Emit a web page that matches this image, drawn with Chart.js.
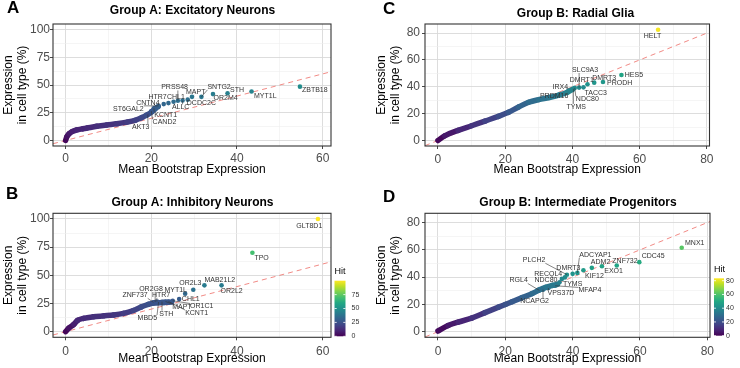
<!DOCTYPE html>
<html>
<head>
<meta charset="utf-8">
<script src="https://cdn.jsdelivr.net/npm/chart.js@4.4.0/dist/chart.umd.min.js"></script>
<style>
  html, body { margin: 0; padding: 0; background: #fff; }
  #wrap { position: relative; width: 740px; height: 368px; }
  .panel { position: absolute; width: 370px; height: 184px; }
</style>
</head>
<body>
<div id="wrap">
  <div class="panel" style="left:0;top:0"><canvas id="chartA" width="370" height="184"></canvas></div>
  <div class="panel" style="left:370px;top:0"><canvas id="chartC" width="370" height="184"></canvas></div>
  <div class="panel" style="left:0;top:184px"><canvas id="chartB" width="370" height="184"></canvas></div>
  <div class="panel" style="left:370px;top:184px"><canvas id="chartD" width="370" height="184"></canvas></div>
</div>
<script>
const FONT = "'Liberation Sans', Arial, Helvetica, sans-serif";

// ---- values ----

// A: Group A, excitatory neurons
const curveAx = [0, 0.3, 0.8, 1.5, 2.6, 4, 5, 7.3, 9.6, 11.9, 14.3, 16.2, 17.7, 18.9, 20.1, 20.9, 21.6];
const curveAy = [0, 3.5, 6, 8, 9.5, 10.5, 11.2, 12.8, 14, 15, 16.5, 18.2, 20.5, 22.8, 25.8, 28.6, 30.5];
const genesA  = ['ZBTB18', 'MYT1L', 'STH', 'OR2M4', 'SNTG2', 'MAPT', 'PRSS48', 'CHL1', 'HTR7', 'ALLC', 'DCDC2C', 'CNTN4', 'ST6GAL2', 'KCNT1', 'CAND2', 'AKT3'];
const genesAx = [54.7, 43.4, 37.8, 34.4, 31.7, 29.5, 26.2, 25.2, 24.0, 27.3, 28.5, 22.9, 21.7, 20.6, 20.0, 19.2];
const genesAy = [48.5, 44.2, 42.6, 41.8, 39.3, 39.3, 35.8, 34.9, 33.7, 36.0, 36.8, 32.8, 31.2, 29.0, 26.5, 23.5];

// B: Group A, inhibitory neurons
const curveBx = [0, 0.7, 1.9, 2.8, 4.2, 6.5, 8.8, 11.2, 13.5, 15.8, 17.7, 19.3, 20.5, 22.8, 24.7];
const curveBy = [0, 3, 6.5, 10, 11.8, 13.2, 14, 14.8, 16.2, 18.8, 22, 24.3, 25.3, 25.8, 26.2];
const genesB  = ['GLT8D1', 'TPO', 'MAB21L2', 'OR2L2', 'OR2L3', 'MYT1L', 'CHL1', 'OR1C1', 'KCNT1', 'MAPT', 'STH', 'MBD5', 'HTR7', 'OR2G8', 'ZNF737'];
const genesBx = [58.9, 43.6, 32.4, 36.4, 29.8, 27.9, 26.5, 25.0, 24.0, 23.3, 22.5, 21.7, 21.3, 20.9, 20.5];
const genesBy = [100, 70, 41.1, 41.1, 37.2, 33.7, 28.9, 27.4, 26.8, 26.8, 26.6, 26.3, 26.8, 26.3, 26.0];

// C: Group B, radial glia
const curveCx = [0, 2, 6, 10, 14, 18, 21, 24, 27, 30, 33, 36, 38.5, 40];
const curveCy = [0, 3.5, 7.5, 11, 14.5, 18, 21, 25, 28.5, 30.5, 32, 33.8, 36, 38];
const genesC  = ['HELT', 'HES5', 'PRODH', 'DMRT3', 'DMRT1', 'SLC9A3', 'TACC3', 'NDC80', 'TYMS', 'IRX4', 'PRDM16'];
const genesCx = [65.5, 54.6, 49.1, 46.5, 44.5, 42.0, 43.3, 40.7, 40.3, 38.9, 36.3];
const genesCy = [82.5, 48.8, 43.6, 43.1, 41.9, 39.4, 39.6, 39.2, 38.5, 37.2, 34.3];

// D: Group B, intermediate progenitors
const curveDx = [0, 3, 6, 10, 14, 18, 20, 22, 25, 28, 30, 32, 34, 35.5];
const curveDy = [0.5, 4.5, 7, 10, 14, 18, 20, 22, 25, 28, 30.5, 32.5, 34, 34.8];
const genesD  = ['MNX1', 'CDC45', 'ZNF732', 'EXO1', 'ADM2', 'KIF12', 'ADCYAP1', 'DMRT3', 'PLCH2', 'RECQL4', 'NDC80', 'TYMS', 'MFAP4', 'VPS37D', 'RGL4', 'NCAPG2'];
const genesDx = [72.4, 59.8, 53.1, 48.7, 45.7, 43.2, 41.4, 40.0, 38.3, 37.7, 36.8, 36.1, 34.8, 32.8, 30.1, 31.2];
const genesDy = [61.5, 51.0, 48.5, 48.0, 46.8, 45.0, 43.1, 42.4, 41.8, 39.8, 38.7, 36.3, 33.7, 32.0, 30.3, 30.8];

// axis and colour-bar ticks
const xTicksAB = [0, 20, 40, 60];
const yTicksAB = [0, 25, 50, 75, 100];
const xTicksCD = [0, 20, 40, 60, 80];
const yTicksCD = [0, 20, 40, 60, 80];
const hitTicksB = [0, 25, 50, 75];
const hitTicksD = [0, 20, 40, 60, 80];

// label nudges in pixels: [dx to text left, dy to text middle, draw segment]
const nudgeA = [[2,3,0],[2.5,5,0],[2.5,-3.5,0],[0.5,4,0],[6,-10,1],[-6,-5,0],[-16.7,-13.3,1],[-6.7,-4.3,0],[-20,-5.7,0],[-10.7,6.9,1],[-0.9,3.4,0],[-27.5,-1.1,0],[-45.6,2.9,1],[0.4,6.4,1],[1.3,11.3,1],[-15.9,12.6,1]];
const nudgeB = [[-21.6,7,0],[2,5,0],[0,-5,0],[-1,5.3,0],[-14,-6.7,0],[-20.7,-4,1],[2.7,0,0],[17.3,5.7,1],[16.7,11.6,1],[6.7,5.6,1],[-2.7,12,1],[-21,16,1],[-5,-6.7,1],[-16,-13.3,1],[-31,-7,1]];
const nudgeC = [[-14.3,6.7,0],[3.3,0,0],[4,0.7,0],[-2,-4.3,0],[-17.7,-4.3,0],[-7,-17.6,1],[1,5.5,0],[1.1,11.4,1],[-6.8,18.1,1],[-16.1,-4,0],[-20,2,0]];
const nudgeD = [[3.3,-5,0],[2.4,-6,0],[-4.4,-4.3,0],[2.3,5,0],[-1,-6,0],[1.7,5.3,0],[2,-18.3,1],[-16.3,-6,0],[-44.1,-14.4,1],[-30.7,-3.1,0],[-27.4,1.4,0],[3.4,1.8,0],[23.3,4.7,1],[-0.9,5,1],[-29.8,-9.9,1],[-22.8,11.8,1]];

// ---- helpers ----
const VIRIDIS = ['#440154','#482475','#414487','#355f8d','#2a788e','#21918c','#22a884','#44bf70','#7ad151','#bddf26','#fde725'];
function hexRgb(h) {
  return [parseInt(h.slice(1,3),16), parseInt(h.slice(3,5),16), parseInt(h.slice(5,7),16)];
}
function viridis(t) {
  t = Math.max(0, Math.min(1, t));
  const p = t * (VIRIDIS.length - 1);
  const i = Math.min(Math.floor(p), VIRIDIS.length - 2), f = p - i;
  const a = hexRgb(VIRIDIS[i]), b = hexRgb(VIRIDIS[i + 1]);
  const c = a.map((v, k) => Math.round(v + (b[k] - v) * f));
  return `rgb(${c[0]},${c[1]},${c[2]})`;
}
// major ticks plus the minor grid lines half way between them
function withMinor(major, lo, hi) {
  const half = (major[1] - major[0]) / 2, out = [];
  for (let v = major[0] - half; v <= major[major.length - 1] + half + 1e-9; v += half) {
    if (v >= lo && v <= hi) out.push(v);
  }
  return out;
}

function decor(p) {
  return {
    id: 'decor' + p.letter,
    afterDatasetsDraw(chart) {
      const { ctx, chartArea: a } = chart;
      const xs = chart.scales.x, ys = chart.scales.y;
      ctx.save();
      ctx.font = `7px ${FONT}`;
      ctx.textAlign = 'left';
      ctx.textBaseline = 'middle';
      p.genes.forEach((g, i) => {
        const px = xs.getPixelForValue(p.gx[i]), py = ys.getPixelForValue(p.gy[i]);
        const [dx, dy, seg] = p.nudge[i];
        const tx = px + dx, ty = py + dy, w = ctx.measureText(g).width;
        if (seg) {
          const cx = Math.max(tx, Math.min(px, tx + w));
          const cy = Math.max(ty - 3, Math.min(py, ty + 3));
          ctx.strokeStyle = '#333';
          ctx.lineWidth = 0.6;
          ctx.beginPath(); ctx.moveTo(px, py); ctx.lineTo(cx, cy); ctx.stroke();
        }
        ctx.fillStyle = '#333';
        ctx.fillText(g, tx, ty);
      });
      ctx.strokeStyle = '#333';
      ctx.lineWidth = 1.1;
      ctx.strokeRect(a.left, a.top, a.right - a.left, a.bottom - a.top);
      ctx.restore();
    },
    afterDraw(chart) {
      const ctx = chart.ctx;
      ctx.save();
      ctx.fillStyle = '#000';
      ctx.textBaseline = 'middle';
      ctx.textAlign = 'left';
      ctx.font = `bold 17px ${FONT}`;
      ctx.fillText(p.letter, p.letterPos[0], p.letterPos[1]);
      ctx.textAlign = 'center';
      ctx.font = `bold 12px ${FONT}`;
      ctx.fillText(p.title, p.titlePos[0], p.titlePos[1]);
      const cb = p.colorbar;
      if (cb) {
        const g = ctx.createLinearGradient(0, cb.bottom, 0, cb.top);
        VIRIDIS.forEach((c, i) => g.addColorStop(i / (VIRIDIS.length - 1), c));
        ctx.fillStyle = g;
        ctx.fillRect(cb.x, cb.top, cb.w, cb.bottom - cb.top);
        ctx.textAlign = 'left';
        ctx.fillStyle = '#000';
        ctx.font = `9px ${FONT}`;
        ctx.fillText('Hit', cb.x, cb.titleY);
        ctx.font = `7px ${FONT}`;
        cb.ticks.forEach(v => {
          const yy = cb.bottom - (v / p.hitMax) * (cb.bottom - cb.top);
          ctx.strokeStyle = '#fff';
          ctx.lineWidth = 0.8;
          ctx.beginPath();
          ctx.moveTo(cb.x, yy); ctx.lineTo(cb.x + cb.w / 5, yy);
          ctx.moveTo(cb.x + cb.w, yy); ctx.lineTo(cb.x + cb.w * 4 / 5, yy);
          ctx.stroke();
          ctx.fillStyle = '#333';
          ctx.fillText(String(v), cb.labelX, yy);
        });
      }
      ctx.restore();
    }
  };
}

function makePanel(canvasId, p) {
  const L = p.area;
  const majX = new Set(p.xTicks), majY = new Set(p.yTicks);
  const isMaj = (set, c) => !!(c.tick && set.has(c.tick.value));
  const grid = set => ({
    color: c => isMaj(set, c) ? '#d9d9d9' : '#efefef',
    lineWidth: c => isMaj(set, c) ? 0.9 : 0.6,
    tickColor: c => isMaj(set, c) ? '#333' : 'rgba(0,0,0,0)',
    tickLength: 3,
    drawTicks: true
  });
  const tickFont = { family: FONT, size: 12 };
  new Chart(document.getElementById(canvasId), {
    type: 'scatter',
    data: {
      datasets: [
        {
          data: [{ x: p.xMin, y: p.xMin }, { x: p.xMax, y: p.xMax }],
          showLine: true, borderColor: 'rgba(238,118,112,0.85)', borderWidth: 1,
          borderDash: [5, 4], pointRadius: 0, clip: 0, order: 3
        },
        {
          data: p.cx.map((x, i) => ({ x, y: p.cy[i] })),
          showLine: true, borderWidth: 5.5, borderCapStyle: 'round', borderJoinStyle: 'round',
          cubicInterpolationMode: 'monotone', pointRadius: 0, borderColor: viridis(0),
          segment: { borderColor: c => viridis((c.p0.parsed.y + c.p1.parsed.y) / 2 / p.hitMax) },
          order: 2
        },
        {
          data: p.gx.map((x, i) => ({ x, y: p.gy[i] })),
          pointRadius: 2.3, pointBorderWidth: 0,
          pointBackgroundColor: p.gy.map(v => viridis(v / p.hitMax)),
          order: 1
        }
      ]
    },
    options: {
      responsive: false,
      animation: false,
      devicePixelRatio: 1,
      layout: { padding: { left: 0, top: L.top, right: 370 - L.right, bottom: 0 } },
      plugins: { legend: { display: false }, tooltip: { enabled: false }, title: { display: false } },
      scales: {
        x: {
          type: 'linear', min: p.xMin, max: p.xMax,
          afterFit: s => { s.height = 184 - L.bottom; },
          afterBuildTicks: s => { s.ticks = withMinor(p.xTicks, p.xMin, p.xMax).map(v => ({ value: v })); },
          grid: grid(majX),
          border: { display: false },
          ticks: { autoSkip: false, maxRotation: 0, color: '#4d4d4d', font: tickFont, padding: p.xTickPad,
                   callback: v => majX.has(v) ? String(v) : '' },
          title: { display: true, text: 'Mean Bootstrap Expression', color: '#000', font: { family: FONT, size: 12 },
                   padding: { top: 0, bottom: p.xTitlePad } }
        },
        y: {
          type: 'linear', min: p.yMin, max: p.yMax,
          afterFit: s => { s.width = L.left; },
          afterBuildTicks: s => { s.ticks = withMinor(p.yTicks, p.yMin, p.yMax).map(v => ({ value: v })); },
          grid: grid(majY),
          border: { display: false },
          ticks: { autoSkip: false, color: '#4d4d4d', font: tickFont, padding: p.yTickPad,
                   callback: v => majY.has(v) ? String(v) : '' },
          title: { display: true, text: ['Expression', 'in cell type (%)'], color: '#000', font: { family: FONT, size: 12 },
                   padding: { top: p.yTitlePad, bottom: 0 } }
        }
      }
    },
    plugins: [decor(p)]
  });
}

makePanel('chartA', {
  letter: 'A', letterPos: [7, 8.5], title: 'Group A: Excitatory Neurons', titlePos: [192.5, 11],
  cx: curveAx, cy: curveAy, genes: genesA, gx: genesAx, gy: genesAy, nudge: nudgeA,
  xMin: -2.95, xMax: 61.95, yMin: -5, yMax: 105, xTicks: xTicksAB, yTicks: yTicksAB, hitMax: 100,
  area: { left: 53, right: 331, top: 24, bottom: 146 },
  xTickPad: 2, yTickPad: 0, xTitlePad: 7.3, yTitlePad: 1.1, colorbar: null
});
makePanel('chartC', {
  letter: 'C', letterPos: [13, 9], title: 'Group B: Radial Glia', titlePos: [205.5, 14],
  cx: curveCx, cy: curveCy, genes: genesC, gx: genesCx, gy: genesCy, nudge: nudgeC,
  xMin: -3.85, xMax: 80.8, yMin: -4.1, yMax: 86.8, xTicks: xTicksCD, yTicks: yTicksCD, hitMax: 83.5,
  area: { left: 55, right: 339.5, top: 24, bottom: 146 },
  xTickPad: 3, yTickPad: 2, xTitlePad: 7.5, yTitlePad: 4.5, colorbar: null
});
makePanel('chartB', {
  letter: 'B', letterPos: [6, 10], title: 'Group A: Inhibitory Neurons', titlePos: [192.5, 18.3],
  cx: curveBx, cy: curveBy, genes: genesB, gx: genesBx, gy: genesBy, nudge: nudgeB,
  xMin: -2.95, xMax: 61.95, yMin: -5, yMax: 105, xTicks: xTicksAB, yTicks: yTicksAB, hitMax: 100,
  area: { left: 53, right: 331, top: 29.3, bottom: 153.3 },
  xTickPad: 4.5, yTickPad: 0, xTitlePad: 2.5, yTitlePad: 1.1,
  colorbar: { x: 334.5, w: 11, top: 96.7, bottom: 152.3, ticks: hitTicksB, labelX: 351.5, titleY: 87.3 }
});
makePanel('chartD', {
  letter: 'D', letterPos: [13, 13], title: 'Group B: Intermediate Progenitors', titlePos: [208, 18.3],
  cx: curveDx, cy: curveDy, genes: genesD, gx: genesDx, gy: genesDy, nudge: nudgeD,
  xMin: -3.85, xMax: 80.8, yMin: -4.1, yMax: 86.8, xTicks: xTicksCD, yTicks: yTicksCD, hitMax: 83.5,
  area: { left: 55, right: 340, top: 29.3, bottom: 153.3 },
  xTickPad: 4.5, yTickPad: 2, xTitlePad: 1.8, yTitlePad: 4.5,
  colorbar: { x: 344, w: 10, top: 94.3, bottom: 151.7, ticks: hitTicksD, labelX: 356, titleY: 86 }
});
</script>
</body>
</html>
